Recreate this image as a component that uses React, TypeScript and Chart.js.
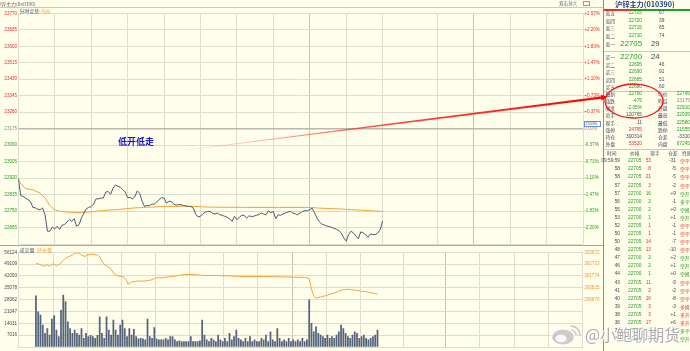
import React, { useEffect, useRef } from "react";
import { Chart, registerables } from "chart.js";

Chart.register(...registerables);

// ---------- data ----------
const PREV_CLOSE = 23175;
const PRICE_STEP = 85;
const PRICE_LEVELS = 7;
const SESSION_MINUTES = 465;
const MINUTE_STEP = 2;

const gridMinutes = [0, 30, 60, 90, 120, 150, 180, 210, 240, 270, 300, 345, 375, 405, 435, 465];
const strongGridMinutes = [240, 375];

// price every 2 minutes from 21:00
const priceValues = [
  22919, 22830, 22825, 22817, 22808, 22800, 22769, 22767, 22759, 22757,
  22766, 22732, 22646, 22646, 22668, 22658, 22672, 22655, 22677, 22680,
  22694, 22706, 22697, 22711, 22672, 22680, 22715, 22740, 22762, 22769,
  22773, 22786, 22813, 22813, 22817, 22817, 22848, 22851, 22837, 22868,
  22885, 22878, 22873, 22861, 22848, 22820, 22820, 22813, 22824, 22854,
  22841, 22800, 22774, 22779, 22778, 22786, 22786, 22796, 22810, 22820,
  22817, 22791, 22800, 22800, 22786, 22781, 22783, 22783, 22779, 22776,
  22774, 22774, 22766, 22735, 22720, 22723, 22736, 22745, 22748, 22748,
  22738, 22735, 22740, 22731, 22728, 22723, 22718, 22711, 22697, 22723,
  22706, 22718, 22728, 22728, 22714, 22726, 22721, 22724, 22728, 22731,
  22740, 22735, 22731, 22752, 22741, 22748, 22711, 22731, 22728, 22735,
  22740, 22745, 22748, 22740, 22736, 22731, 22740, 22748, 22752, 22752,
  22757, 22765, 22740, 22714, 22694, 22683, 22678, 22673, 22670, 22666,
  22661, 22656, 22649, 22637, 22612, 22595, 22629, 22646, 22637, 22621,
  22607, 22643, 22637, 22629, 22615, 22632, 22629, 22629, 22637, 22654,
  22700,
];

const avgMinutes = [0, 2, 6, 12, 18, 22, 26, 30, 34, 40, 50, 60, 70, 80, 95, 105, 117, 128, 140, 160, 188, 215, 240, 248, 262, 281, 300];
const avgValues = [22919, 22890, 22866, 22860, 22842, 22817, 22779, 22757, 22749, 22745, 22742, 22746, 22753, 22757, 22766, 22769, 22773, 22774, 22775, 22770, 22769, 22769, 22769, 22765, 22762, 22755, 22748];

const volumeValues = [
  30400, 20800, 19000, 13000, 8100, 11000, 7100, 16600, 18600, 10000,
  6200, 21700, 30800, 27000, 15000, 11000, 8100, 10000, 8100, 7100,
  11000, 5200, 8100, 6200, 7000, 6200, 5200, 7000, 17900, 8100,
  5200, 17900, 10000, 7100, 16000, 10000, 7100, 13000, 15900, 11000,
  6200, 11000, 7100, 10500, 6200, 4800, 5200, 4800, 4200, 16600,
  6200, 5200, 11500, 4800, 4200, 4200, 4200, 5200, 4200, 6200,
  6200, 4200, 3300, 3700, 3300, 3300, 3300, 3300, 6200, 3300,
  3300, 3300, 3700, 15900, 7100, 4200,
  3300, 5200, 4200, 3300, 7100, 4200, 3300, 5200, 3300, 8100,
  4200, 6200, 10000, 5200, 4200, 3300, 5200, 3300, 6200, 3300,
  4200, 3300, 3300, 5200, 4200, 7100, 3300, 9000, 4200, 3300,
  11000, 5200, 3300, 4200, 3300, 5200, 3300, 4200, 3300, 4200,
  3300, 5200, 3300, 4200,
  28000, 14000, 9000, 12000, 8100, 7100, 6200, 5200, 7100, 5200,
  6200, 5200, 7100, 9000, 13000, 11000, 8100, 6200, 5200, 7100,
  9000, 8100, 5200, 6200, 7100, 5200, 4200, 5200, 6200, 7100,
  10000,
];

const oiMinutes = [0, 4, 7, 10, 12, 15, 18, 21, 23, 26, 29, 32, 34, 37, 40, 43, 45, 49, 54, 56, 58, 60, 63, 65, 69, 73, 77, 80, 81, 84, 89, 95, 100, 106, 111, 117, 122, 130, 139, 147, 160, 180, 200, 220, 236, 240, 242, 244, 246, 250, 256, 262, 268, 274, 280, 286, 292, 300];
const oiValues = [302809, 302676, 302543, 302676, 302543, 302754, 302597, 302754, 302935, 303201, 303327, 303460, 303594, 303641, 303460, 303327, 303460, 303515, 303460, 303327, 302935, 302676, 302543, 302417, 301892, 301758, 301711, 301366, 301107, 301288, 301366, 301366, 301421, 301633, 301633, 301711, 301758, 301892, 301892, 301813, 301813, 301735, 301735, 301696, 301657, 301578, 300715, 300166, 300009, 300088, 300245, 300401, 300637, 300715, 300637, 300558, 300480, 300314];

const priceTickLabels = ["23770", "23685", "23600", "23515", "23430", "23345", "23260", "23175", "23090", "23005", "22920", "22835", "22750", "22665"];
const pctTickLabels = ["+2.57%", "+2.20%", "+1.83%", "+1.47%", "+1.10%", "+0.73%", "+0.37%", "0.00%", "-0.37%", "-0.73%", "-1.10%", "-1.47%", "-1.83%", "-2.20%"];
const VOL_MAX = 56124;
const VOL_DIVS = 8;
const volTickLabels = ["56124", "49109", "42093", "35078", "28062", "21047", "14031", "7016"];
const OI_MAX = 303672;
const OI_STEP = 949;
const oiTickLabels = ["303672", "302723", "301774", "300825", "299876"];

// right panel
const bookLabels = ["卖五", "卖四", "卖三", "卖二", "卖一", "买一", "买二", "买三", "买四", "买五"];
const bookPrices = ["22725", "22720", "22715", "22710", "22705", "22700", "22695", "22690", "22685", "22680"];
const bookVols = ["67", "39", "65", "74", "29", "24", "46", "91", "51", "60"];

const statLeftLabels = ["最新", "涨跌", "幅度", "总手", "现手", "涨停", "持仓", "外盘"];
const statLeftValues = ["22700", "-475", "-2.05%", "120765", "11", "24795", "300314", "53520"];
const statLeftTone = ["g", "g", "g", "d", "d", "r", "d", "r"];
const statRightLabels = ["均价", "昨结", "开盘", "最高", "最低", "跌停", "仓差", "内盘"];
const statRightValues = ["22745", "23175", "22910", "22935", "22580", "21555", "-3310", "67245"];
const statRightTone = ["g", "n", "g", "g", "g", "g", "d", "g"];

const tickHeaders = ["时间", "价格", "现手", "仓差", "性质"];
const tickTimes = ["09:59:59", "58", "58", "57", "57", "56", "55", "53", "52", "50", "50", "48", "47", "46", "44", "43", "41", "40", "39", "38", "36", "35", "34"];
const tickPrices = ["22705", "22705", "22705", "22705", "22700", "22700", "22700", "22700", "22705", "22705", "22705", "22705", "22700", "22700", "22700", "22705", "22705", "22705", "22705", "22705", "22705", "22700", "22700"];
const tickVols = ["53", "8", "21", "3", "16", "2", "2", "1", "1", "1", "14", "13", "2", "2", "1", "11", "2", "16", "3", "3", "17", "4", "2"];
const tickSides = ["r", "r", "r", "r", "g", "g", "g", "g", "r", "r", "r", "r", "g", "g", "g", "r", "r", "r", "r", "r", "r", "g", "g"];
const tickDiffs = ["-31", "-5", "-5", "-2", "+9", "-1", "+0", "+1", "-1", "-1", "-7", "-10", "+2", "+1", "+0", "-9", "-2", "-8", "-3", "+1", "+6", "-2", "+1"];
const tickNatures = ["空平", "空平", "空平", "空平", "空开", "多平", "空换", "空开", "空平", "空平", "空平", "空平", "空开", "空开", "空换", "空平", "空平", "空平", "多换", "多开", "多开", "多平", "空开"];

// ---------- style ----------
const BG = "#fffeea";
const RED = "#e8302c";
const GREEN = "#23a023";
const GRAY = "#8a8a86";
const DARK = "#44465a";
const GRID = "#dcdccf";
const GRID_STRONG = "#c2c2b8";
const FONT = '"Liberation Sans", Arial, "Noto Sans CJK SC", sans-serif';
const CJK = '"Noto Sans CJK SC", "Liberation Sans", sans-serif';
const toneColor: Record<string, string> = { r: RED, g: GREEN, d: DARK, n: GRAY };

const tickFont = { size: 4.6, family: FONT };

function xScale() {
  return {
    type: "linear" as const,
    min: 0,
    max: SESSION_MINUTES,
    afterBuildTicks: (s: any) => {
      s.ticks = gridMinutes.map((v) => ({ value: v }));
    },
    afterFit: (s: any) => {
      s.height = 0;
    },
    ticks: { display: false },
    border: { display: false },
    grid: {
      drawTicks: false,
      lineWidth: 1,
      color: (ctx: any) => (strongGridMinutes.includes(ctx.tick && ctx.tick.value) ? GRID_STRONG : GRID),
    },
  };
}

function MainChart() {
  const ref = useRef<HTMLCanvasElement>(null);
  useEffect(() => {
    const lo = PREV_CLOSE - PRICE_LEVELS * PRICE_STEP;
    const hi = PREV_CLOSE + PRICE_LEVELS * PRICE_STEP;
    const levelTicks = (s: any) => {
      const t = [];
      for (let k = -PRICE_LEVELS; k <= PRICE_LEVELS; k++) t.push({ value: PREV_CLOSE + k * PRICE_STEP });
      s.ticks = t;
    };
    const levelOf = (v: number) => Math.round((v - PREV_CLOSE) / PRICE_STEP);
    const toneOf = (ctx: any) => {
      const k = levelOf(ctx.tick.value);
      return k > 0 ? RED : k < 0 ? GREEN : GRAY;
    };
    const chart = new Chart(ref.current!, {
      type: "line",
      data: {
        datasets: [
          {
            data: priceValues.map((v, i) => ({ x: i * MINUTE_STEP, y: v })),
            borderColor: "#4d5b76",
            borderWidth: 1,
            pointRadius: 0,
            yAxisID: "y",
          },
          {
            data: avgMinutes.map((m, i) => ({ x: m, y: avgValues[i] })),
            borderColor: "#f3a33a",
            borderWidth: 1,
            pointRadius: 0,
            yAxisID: "y",
          },
        ],
      },
      options: {
        animation: false,
        responsive: false,
        events: [],
        layout: { padding: { left: 0, right: 0, top: 13.3, bottom: 2.3 }, autoPadding: false } as any,
        plugins: { legend: { display: false }, tooltip: { enabled: false } },
        scales: {
          x: xScale() as any,
          y: {
            type: "linear",
            position: "left",
            min: lo,
            max: hi,
            afterBuildTicks: levelTicks,
            afterFit: (s: any) => {
              s.width = 18.3;
            },
            border: { display: false },
            grid: {
              drawTicks: false,
              color: (ctx: any) => (levelOf(ctx.tick.value) === 0 ? "#b8b8ae" : GRID),
              lineWidth: (ctx: any) => (levelOf(ctx.tick.value) === 0 ? 1.6 : 1),
            },
            ticks: {
              autoSkip: false,
              padding: 1.2,
              font: tickFont,
              color: toneOf as any,
              callback: (v: any) => priceTickLabels[PRICE_LEVELS - levelOf(v)] || "",
            },
          },
          y2: {
            type: "linear",
            position: "right",
            min: lo,
            max: hi,
            afterBuildTicks: levelTicks,
            afterFit: (s: any) => {
              s.width = 20;
            },
            border: { display: false },
            grid: { display: false, drawTicks: false },
            ticks: {
              autoSkip: false,
              padding: 1.2,
              font: tickFont,
              color: toneOf as any,
              callback: (v: any) => pctTickLabels[PRICE_LEVELS - levelOf(v)] || "",
            },
          },
        },
      },
    });
    return () => chart.destroy();
  }, []);
  return <canvas ref={ref} width={603} height={248} style={{ position: "absolute", left: 0, top: 0 }} />;
}

function VolumeChart() {
  const ref = useRef<HTMLCanvasElement>(null);
  useEffect(() => {
    const volTicks = (s: any) => {
      const t = [];
      for (let j = 0; j <= VOL_DIVS; j++) t.push({ value: (VOL_MAX * j) / VOL_DIVS });
      s.ticks = t;
    };
    const oiMin = OI_MAX - VOL_DIVS * OI_STEP;
    const oiTicks = (s: any) => {
      const t = [];
      for (let j = 0; j <= VOL_DIVS; j++) t.push({ value: oiMin + j * OI_STEP });
      s.ticks = t;
    };
    const chart = new Chart(ref.current!, {
      type: "bar",
      data: {
        datasets: [
          {
            type: "line",
            data: oiMinutes.map((m, i) => ({ x: m, y: oiValues[i] })),
            borderColor: "#f5a446",
            borderWidth: 1,
            pointRadius: 0,
            yAxisID: "y2",
          } as any,
          {
            type: "bar",
            data: volumeValues.map((v, i) => ({ x: i * MINUTE_STEP, y: v })),
            backgroundColor: "#56647b",
            barThickness: 1.1,
            yAxisID: "y",
          } as any,
        ],
      },
      options: {
        animation: false,
        responsive: false,
        events: [],
        layout: { padding: { left: 0, right: 0, top: 7.3, bottom: 2 }, autoPadding: false } as any,
        plugins: { legend: { display: false }, tooltip: { enabled: false } },
        scales: {
          x: xScale() as any,
          y: {
            type: "linear",
            position: "left",
            min: 0,
            max: VOL_MAX,
            afterBuildTicks: volTicks,
            afterFit: (s: any) => {
              s.width = 18.3;
            },
            border: { display: false },
            grid: { drawTicks: false, color: GRID },
            ticks: {
              autoSkip: false,
              padding: 1.2,
              font: tickFont,
              color: DARK,
              callback: (v: any) => volTickLabels[VOL_DIVS - Math.round((v / VOL_MAX) * VOL_DIVS)] || "",
            },
          },
          y2: {
            type: "linear",
            position: "right",
            min: oiMin,
            max: OI_MAX,
            afterBuildTicks: oiTicks,
            afterFit: (s: any) => {
              s.width = 20;
            },
            border: { display: false },
            grid: { display: false, drawTicks: false },
            ticks: {
              autoSkip: false,
              padding: 1.2,
              font: tickFont,
              color: "#f39a32",
              callback: (v: any) => oiTickLabels[Math.round((OI_MAX - v) / OI_STEP)] || "",
            },
          },
        },
      },
    });
    return () => chart.destroy();
  }, []);
  return <canvas ref={ref} width={603} height={106} style={{ position: "absolute", left: 0, top: 245 }} />;
}

function T(props: { x: number; y: number; s: number; c: string; align?: "left" | "right"; bold?: boolean; f?: string; children: any }) {
  const { x, y, s, c, align = "left", bold, f, children } = props;
  const style: any = {
    position: "absolute",
    top: y - s / 2,
    fontSize: s,
    lineHeight: `${s}px`,
    color: c,
    whiteSpace: "nowrap",
    fontWeight: bold ? "bold" : "normal",
    fontFamily: f || FONT,
  };
  if (align === "left") style.left = x;
  else style.right = 690 - x;
  return <div style={style}>{children}</div>;
}

function HLine(props: { x1: number; x2: number; y: number; c: string; h?: number }) {
  const { x1, x2, y, c, h = 1 } = props;
  return <div style={{ position: "absolute", left: x1, top: y, width: x2 - x1, height: h, background: c }} />;
}

function RightPanel() {
  const S = 4.8;
  const bookY = [13.5, 21, 28.5, 36, 44.2, 57, 65, 72.5, 80, 87.5];
  const statY = [94.2, 101.4, 108.6, 115.8, 123, 130.2, 137.3, 144.4];
  const tickY0 = 161.7;
  const tickDY = 8.08;
  return (
    <div>
      <div style={{ position: "absolute", left: 603, top: 0, width: 1, height: 351, background: "#8c8c88" }} />
      <T x={615} y={4.5} s={7.2} c="#203c8c" bold f={CJK}>沪锌主力(010390)</T>
      <HLine x1={604} x2={633} y={9} c={RED} h={1.5} />
      <HLine x1={633} x2={690} y={9} c={GREEN} h={1.5} />
      {bookLabels.map((l, i) => {
        const big = i === 4 || i === 5;
        return (
          <React.Fragment key={"b" + i}>
            <T x={605.5} y={bookY[i]} s={S} c={DARK} f={CJK}>{l}</T>
            <T x={642} y={bookY[i]} s={big ? 7.8 : S} c={GREEN} align="right">{bookPrices[i]}</T>
            <T x={big ? 651 : 659} y={bookY[i]} s={big ? 7.8 : S} c={DARK}>{bookVols[i]}</T>
          </React.Fragment>
        );
      })}
      <HLine x1={604} x2={690} y={50.5} c="#c8c8c0" />
      <HLine x1={604} x2={690} y={90.8} c="#c8c8c0" />
      {statLeftLabels.map((l, i) => (
        <React.Fragment key={"s" + i}>
          <T x={605.5} y={statY[i]} s={S} c={DARK} f={CJK}>{l}</T>
          <T x={642} y={statY[i]} s={S} c={toneColor[statLeftTone[i]]} align="right">{statLeftValues[i]}</T>
          <T x={658} y={statY[i]} s={S} c={DARK} f={CJK}>{statRightLabels[i]}</T>
          <T x={690} y={statY[i]} s={S} c={toneColor[statRightTone[i]]} align="right">{statRightValues[i]}</T>
        </React.Fragment>
      ))}
      <HLine x1={604} x2={690} y={148.5} c="#c8c8c0" />
      {tickHeaders.map((h, i) => (
        <T key={"h" + i} x={[607, 630, 650, 668, 682][i]} y={153.5} s={S} c={DARK} f={CJK}>{h}</T>
      ))}
      {tickTimes.map((t, i) => {
        const y = tickY0 + i * tickDY;
        const c = toneColor[tickSides[i]];
        return (
          <React.Fragment key={"t" + i}>
            <T x={620} y={y} s={S} c={DARK} align="right">{t}</T>
            <T x={628} y={y} s={S} c={GREEN}>{tickPrices[i]}</T>
            <T x={651} y={y} s={S} c={c} align="right">{tickVols[i]}</T>
            <T x={676} y={y} s={S} c={DARK} align="right">{tickDiffs[i]}</T>
            <T x={680} y={y} s={S} c={c} f={CJK}>{tickNatures[i]}</T>
          </React.Fragment>
        );
      })}
    </div>
  );
}

function Overlay() {
  // annotation: red arrow + ellipse
  const sx = 187, sy = 150, ex = 601, ey = 97.6;
  const dx = ex - sx, dy = ey - sy;
  const len = Math.hypot(dx, dy);
  const nx = -dy / len, ny = dx / len;
  const w0 = 0.3, w1 = 1.2;
  const pts = [
    [sx + nx * w0, sy + ny * w0],
    [ex + nx * w1, ey + ny * w1],
    [ex - nx * w1, ey - ny * w1],
    [sx - nx * w0, sy - ny * w0],
  ]
    .map((p) => p.join(","))
    .join(" ");
  const ux = dx / len, uy = dy / len;
  const tipX = ex + ux * 7, tipY = ey + uy * 7;
  const head = [
    [tipX, tipY],
    [ex + nx * 2.8, ey + ny * 2.8],
    [ex - nx * 2.8, ey - ny * 2.8],
  ]
    .map((p) => p.join(","))
    .join(" ");
  return (
    <svg width={690} height={351} style={{ position: "absolute", left: 0, top: 0, pointerEvents: "none" }}>
      <defs>
        <linearGradient id="arrowGrad" gradientUnits="userSpaceOnUse" x1={sx} y1={sy} x2={ex} y2={ey}>
          <stop offset="0" stopColor="#ff4040" stopOpacity="0.15" />
          <stop offset="0.45" stopColor="#ff2020" stopOpacity="0.8" />
          <stop offset="1" stopColor="#ff0000" stopOpacity="1" />
        </linearGradient>
      </defs>
      <polygon points={pts} fill="url(#arrowGrad)" />
      <polygon points={head} fill="#ff0000" />
      <ellipse cx={634} cy={101} rx={29} ry={17} fill="none" stroke="#ff1010" strokeWidth={1.3} />
      {/* weibo-like logo of the watermark */}
      <ellipse cx={563} cy={337} rx={11.5} ry={8} fill="#c4c4c4" stroke="#ffffff" strokeWidth={1.2} opacity={0.85} />
      <ellipse cx={561} cy={338.5} rx={5.5} ry={3.8} fill="#ffffff" opacity={0.9} />
      <path d="M571 326 A9 9 0 0 1 580 335" fill="none" stroke="#c4c4c4" strokeWidth={2} opacity={0.85} />
      <path d="M571 330 A5 5 0 0 1 576 335" fill="none" stroke="#c4c4c4" strokeWidth={1.6} opacity={0.85} />
    </svg>
  );
}

export default function App() {
  useEffect(() => {
    document.body.style.margin = "0";
  }, []);
  return (
    <div style={{ position: "fixed", left: 0, top: 0, width: 690, height: 351, overflow: "hidden", background: BG, fontFamily: FONT }}>
      <MainChart />
      <VolumeChart />
      {/* top bar */}
      <T x={-4} y={3} s={5} c="#666" f={CJK}>沪锌主力(0x0390)</T>
      <HLine x1={0} x2={603} y={6.5} c="#c9c9c0" />
      <T x={559} y={3.5} s={4.6} c="#5a6e8c" f={CJK}>双击放大</T>
      <div style={{ position: "absolute", left: 583, top: 1, width: 7, height: 5, border: "1px solid #7a9cc8", boxSizing: "border-box" }} />
      {/* main plot legends */}
      <T x={19.5} y={10.5} s={5} c="#4d5b76" f={CJK}>分时走势</T>
      <T x={41} y={10.5} s={5} c="#f3a33a" f={CJK}>均价</T>
      {/* cursor price box on right axis */}
      <div style={{ position: "absolute", left: 583.5, top: 121.3, width: 17, height: 6, border: "1px solid #6a8ed8", boxSizing: "border-box", background: "#fff" }} />
      <T x={585} y={124.3} s={4.4} c="#3a5aa8">23195</T>
      {/* separator between price and volume */}
      <HLine x1={0} x2={603} y={245.3} c="#a9a9a2" />
      <T x={19.5} y={249} s={5} c="#4d5b76" f={CJK}>成交量</T>
      <T x={37} y={249} s={5} c="#f3a33a" f={CJK}>持仓量</T>
      {/* annotation text */}
      <div style={{ position: "absolute", left: 118, top: 137, fontSize: 9, lineHeight: "10px", fontWeight: "bold", color: "#1414d8", fontFamily: CJK, whiteSpace: "nowrap" }}>低开低走</div>
      <RightPanel />
      <Overlay />
      {/* watermark */}
      <div
        style={{
          position: "absolute",
          left: 585,
          top: 324,
          fontSize: 16,
          lineHeight: "20px",
          fontFamily: CJK,
          color: "rgba(150,150,150,0.8)",
          whiteSpace: "nowrap",
          textShadow: "0 0 1px #fff, 0 0 1px #fff, 1px 1px 0 #fff, -1px -1px 0 #fff",
        }}
      >
        @小鲍聊期货
      </div>
    </div>
  );
}
